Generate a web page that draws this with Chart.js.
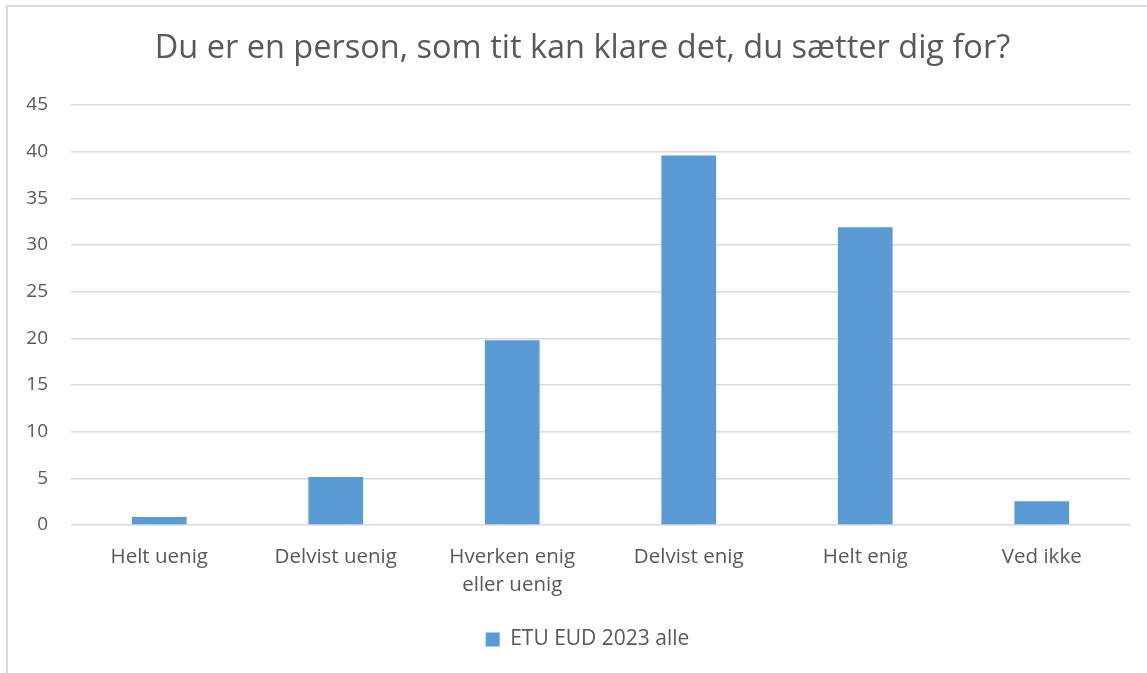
<!DOCTYPE html>
<html>
<head>
<meta charset="utf-8">
<script src="https://cdn.jsdelivr.net/npm/chart.js@4"></script>
<style>
  html, body { margin: 0; padding: 0; background: #fff; }
  #wrap { position: relative; width: 1147px; height: 673px; overflow: hidden; }
  #frame { position: absolute; left: 6px; top: 5px; width: 1200px; height: 700px;
           border-top: 2px solid #dadada; border-left: 2px solid #dadada; }
  canvas { position: absolute; left: 0; top: 0; }
</style>
</head>
<body>
<div id="wrap">
  <div id="frame"></div>
  <canvas id="c" width="1147" height="673"></canvas>
</div>
<script>
const chartTitle = "Du er en person, som tit kan klare det, du sætter dig for?";
const categories = [
  "Helt uenig",
  "Delvist uenig",
  ["Hverken enig", "eller uenig"],
  "Delvist enig",
  "Helt enig",
  "Ved ikke"
];
const seriesName = "ETU EUD 2023 alle";
const seriesValues = [0.86, 5.15, 19.8, 39.6, 31.9, 2.55];
const yTicks = [0, 5, 10, 15, 20, 25, 30, 35, 40, 45];

const FONT = "'Open Sans', 'DejaVu Sans', sans-serif";
const TEXT = "#595959";
const BAR = "#5B9BD5";
const GRID = "#d9d9d9";

const shiftBlocks = {
  id: "shiftBlocks",
  afterLayout(chart) {
    if (chart.legend) { chart.legend.left += 45; }
    if (chart.titleBlock) { chart.titleBlock.left += 35; }
  }
};

new Chart(document.getElementById("c"), {
  type: "bar",
  data: {
    labels: categories,
    datasets: [{
      label: seriesName,
      data: seriesValues,
      backgroundColor: BAR,
      borderWidth: 0,
      categoryPercentage: 1.0,
      barPercentage: 0.31
    }]
  },
  options: {
    responsive: false,
    animation: false,
    devicePixelRatio: 1,
    layout: { padding: { left: 0, right: 17, top: 0, bottom: 13 } },
    plugins: {
      title: {
        display: true,
        text: chartTitle,
        color: TEXT,
        font: { family: FONT, size: 32.5, weight: "normal", lineHeight: 1.2 },
        padding: { top: 29, bottom: 37 }
      },
      legend: {
        display: true,
        position: "bottom",
        labels: {
          color: TEXT,
          font: { family: FONT, size: 21 },
          boxWidth: 14,
          boxHeight: 14,
          padding: 10
        }
      },
      tooltip: { enabled: false }
    },
    scales: {
      x: {
        grid: { display: false, drawTicks: false },
        border: { display: false },
        ticks: {
          color: TEXT,
          font: { family: FONT, size: 20.5, lineHeight: 1.4 },
          padding: 17.6,
          maxRotation: 0,
          autoSkip: false
        },
        afterFit: (s) => { s.height = 94; }
      },
      y: {
        min: 0,
        max: 45,
        afterBuildTicks: (s) => { s.ticks = yTicks.map(v => ({ value: v })); },
        grid: { color: GRID, lineWidth: 1.5, drawTicks: false },
        border: { display: false },
        ticks: {
          color: TEXT,
          font: { family: FONT, size: 19 },
          padding: 23
        },
        afterFit: (s) => { s.width = 71; }
      }
    }
  },
  plugins: [shiftBlocks]
});
</script>
</body>
</html>
